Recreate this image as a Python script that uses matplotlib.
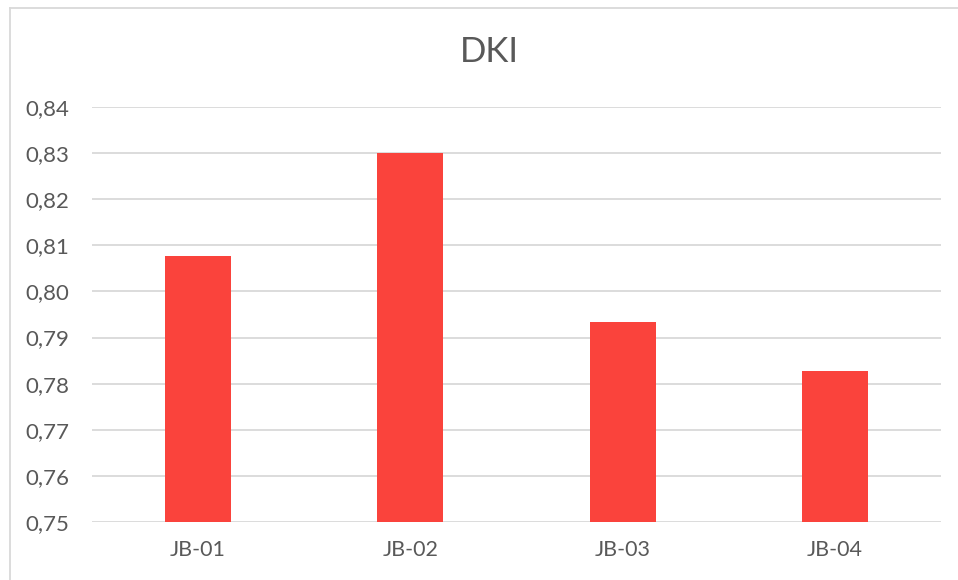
import matplotlib.pyplot as plt
from matplotlib.lines import Line2D

plt.rcParams['font.family'] = ['Lato', 'DejaVu Sans']

categories = ['JB-01', 'JB-02', 'JB-03', 'JB-04']
dki = [0.8077, 0.8300, 0.7934, 0.7828]
yticks = [0.75, 0.76, 0.77, 0.78, 0.79, 0.80, 0.81, 0.82, 0.83, 0.84]

W, H = 958, 580
fig = plt.figure(figsize=(W / 100, H / 100), dpi=100)
ax = fig.add_axes([92 / W, (H - 522) / H, (941 - 92) / W, (522 - 107) / H])

ax.bar(range(len(categories)), dki, width=0.31, color='#fa433c', zorder=3)
ax.set_xlim(-0.5, len(categories) - 0.5)
ax.set_ylim(0.75, 0.84)
ax.set_yticks(yticks)
ax.set_yticklabels([f'{v:.2f}'.replace('.', ',') for v in yticks])
ax.set_xticks(range(len(categories)))
ax.set_xticklabels(categories)

ax.grid(axis='y', color='#d9d9d9', linewidth=1.3, zorder=0)
for s in ax.spines.values():
    s.set_visible(False)
ax.tick_params(length=0, labelsize=16, colors='#595959')
ax.tick_params(axis='y', pad=16.5)
ax.tick_params(axis='x', pad=13, labelsize=15.5)

fig.text(489 / W, 1 - 52 / H, 'DKI', ha='center', va='center',
         fontsize=25, color='#595959')

# chart frame (left and top edges only visible)
fig.add_artist(Line2D([10 / W, 10 / W], [0, 1 - 8 / H], transform=fig.transFigure,
                      color='#d9d9d9', linewidth=1.3))
fig.add_artist(Line2D([10 / W, 1], [1 - 8 / H, 1 - 8 / H], transform=fig.transFigure,
                      color='#d9d9d9', linewidth=1.3))

fig.savefig('out.png', dpi=100)
